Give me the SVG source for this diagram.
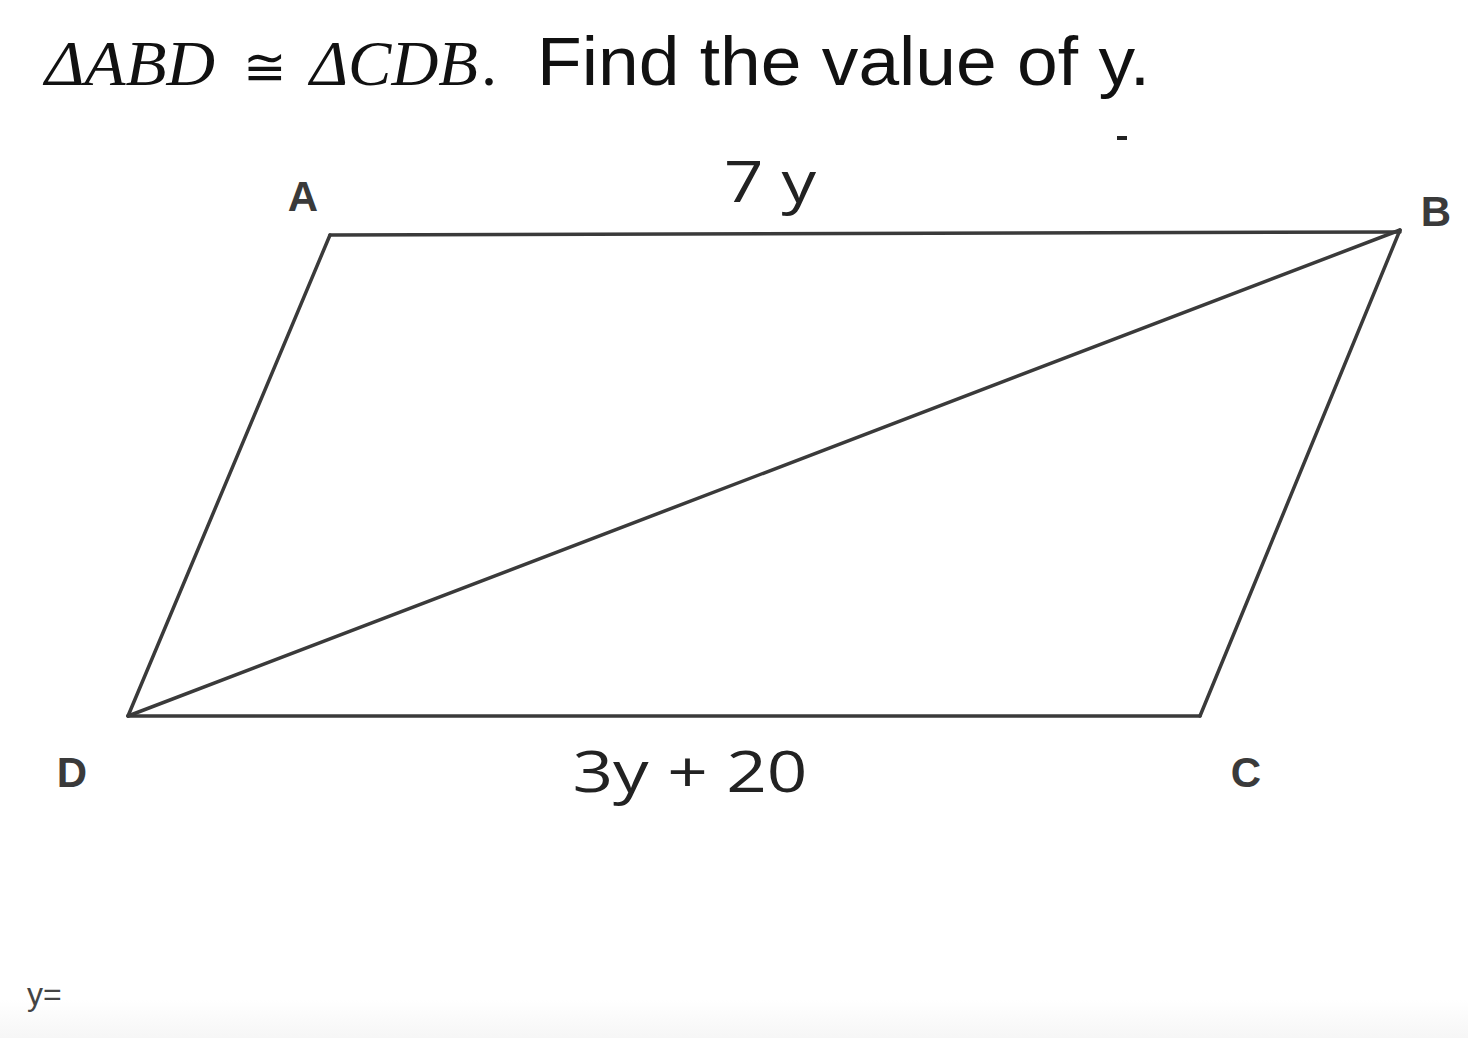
<svg xmlns="http://www.w3.org/2000/svg" width="1468" height="1038" viewBox="0 0 1468 1038">
<defs>
<linearGradient id="band" x1="0" y1="0" x2="0" y2="1">
<stop offset="0" stop-color="#ffffff"/>
<stop offset="1" stop-color="#f6f6f6"/>
</linearGradient>
<style>
.edge{stroke:#3a3a3a;stroke-width:3.5;fill:none;stroke-linecap:round}
.vlabel{font-family:"Liberation Sans",Arial,sans-serif;font-size:42px;font-weight:bold;fill:#3a3a3a}
.slabel{font-family:"Open Sans","Liberation Sans",Arial,sans-serif;font-size:56px;fill:#222}
</style>
</defs>
<rect width="1468" height="1038" fill="#ffffff"/>
<rect x="0" y="1000" width="1468" height="38" fill="url(#band)"/>
<g id="title">
<text x="45" y="85" font-family="'Liberation Serif',serif" font-style="italic" font-size="64" fill="#111" textLength="170" lengthAdjust="spacingAndGlyphs">ΔABD</text>
<text x="243" y="85" font-family="'DejaVu Sans',sans-serif" font-size="52" fill="#111">≅</text>
<text x="310" y="85" font-family="'Liberation Serif',serif" font-style="italic" font-size="64" fill="#111" textLength="168" lengthAdjust="spacingAndGlyphs">ΔCDB</text>
<text x="481" y="85" font-family="'Liberation Serif',serif" font-size="64" fill="#111">.</text>
<text x="537" y="85" font-family="'Liberation Sans',Arial,sans-serif" font-size="68" fill="#111" textLength="613" lengthAdjust="spacingAndGlyphs">Find the value of y.</text>
</g>
<line x1="1117" y1="138" x2="1127" y2="138" stroke="#222" stroke-width="4"/>
<g id="connectors">
<line class="edge" x1="330" y1="235" x2="1400" y2="232"/>
<line class="edge" x1="128" y1="716" x2="1200" y2="716"/>
<line class="edge" x1="330" y1="235" x2="128" y2="716"/>
<line class="edge" x1="1400" y1="230" x2="1200" y2="716"/>
<line class="edge" x1="128" y1="716" x2="1400" y2="230"/>
</g>
<g id="node-A"><text class="vlabel" x="303" y="211" text-anchor="middle">A</text></g>
<g id="node-B"><text class="vlabel" x="1436" y="226" text-anchor="middle">B</text></g>
<g id="node-C"><text class="vlabel" x="1246" y="787" text-anchor="middle">C</text></g>
<g id="node-D"><text class="vlabel" x="72" y="787" text-anchor="middle">D</text></g>
<g id="label-AB"><text class="slabel" x="770" y="202" text-anchor="middle" textLength="92" lengthAdjust="spacingAndGlyphs">7 y</text></g>
<g id="label-DC"><text class="slabel" x="690" y="792" text-anchor="middle" textLength="235" lengthAdjust="spacingAndGlyphs">3y + 20</text></g>
<g id="answer"><text x="27" y="1005" font-family="'Liberation Sans',Arial,sans-serif" font-size="32" fill="#444">y=</text></g>
</svg>
